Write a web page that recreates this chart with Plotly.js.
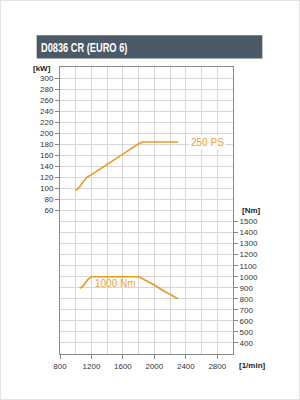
<!DOCTYPE html>
<html><head><meta charset="utf-8">
<script src="https://cdn.plot.ly/plotly-3.0.1.min.js"></script>
<style>
html,body{margin:0;padding:0;background:#fff;}
#wrap{width:300px;height:400px;box-sizing:border-box;border:1px solid #e4e4e4;position:relative;overflow:hidden;}
#chart{position:absolute;left:-1px;top:-1px;width:300px;height:400px;}
#head{position:absolute;left:39.7px;top:38px;height:18px;line-height:18px;white-space:nowrap;
  font-family:"Liberation Sans",Arial,sans-serif;font-weight:bold;font-size:12.5px;color:#fff;
  transform:scaleX(0.74);transform-origin:0 50%;}
</style></head>
<body><div id="wrap"><div id="chart"></div><div id="head"></div></div>
<script>
// engine speed [1/min] and power [kW]
const powerRpm = [1000, 1050, 1100, 1150, 1200, 1400, 1600, 1800, 1850, 2300];
const powerKw  = [96, 103, 113, 121, 125, 143, 162, 181, 184, 184];
// engine speed [1/min] and torque [Nm]
const torqueRpm = [1050, 1100, 1150, 1200, 1800, 1900, 2000, 2100, 2200, 2300];
const torqueNm  = [895, 920, 972, 1000, 1000, 965, 925, 880, 840, 800];
const xTicks = [800, 1200, 1600, 2000, 2400, 2800];
const kwTicks = [60,80,100,120,140,160,180,200,220,240,260,280,300];
const nmTicks = [400,500,600,700,800,900,1000,1100,1200,1300,1400,1500];
const title = "D0836 CR (EURO 6)";
const powerLabel = "250 PS";
const torqueLabel = "1000 Nm";

document.getElementById("head").textContent = title;

const orange = "#e89a1f";
const labelOrange = "#eaa43a";
const F = "Liberation Sans, Arial, sans-serif";
const L = 60, R = 232.7, T = 66.7, B = 354;
const W = R - L, H = B - T;
const px = x => (x - L) / W;
const py = y => (B - y) / H;

const traces = [
  {x: powerRpm, y: powerKw, type: "scatter", mode: "lines", line: {color: orange, width: 1.6}, xaxis: "x", yaxis: "y", hoverinfo: "skip"},
  {x: torqueRpm, y: torqueNm, type: "scatter", mode: "lines", line: {color: orange, width: 1.6}, xaxis: "x", yaxis: "y2", hoverinfo: "skip"}
];

const layout = {
  width: 300, height: 400,
  margin: {l: L, r: 300 - R, t: T, b: 400 - B, pad: 0},
  paper_bgcolor: "rgba(0,0,0,0)", plot_bgcolor: "#fff",
  showlegend: false,
  font: {family: F, size: 8, color: "#333"},
  xaxis: {
    range: [800, 3000], tickmode: "array", tickvals: xTicks,
    ticks: "outside", ticklen: 4, tickcolor: "#888", tickfont: {size: 8, color: "#333"},
    showgrid: true, gridcolor: "#d6d6d6", gridwidth: 1,
    minor: {dtick: 200, tick0: 800, showgrid: true, gridcolor: "#d6d6d6", gridwidth: 1, ticks: ""},
    showline: true, linecolor: "#8a8a8a", linewidth: 1, mirror: true, zeroline: false, fixedrange: true
  },
  yaxis: {
    range: [-200, 320], tickmode: "array", tickvals: kwTicks,
    ticks: "outside", ticklen: 4, tickcolor: "#888", tickfont: {size: 8, color: "#333"},
    showgrid: true, gridcolor: "#d6d6d6", gridwidth: 1,
    minor: {dtick: 20, tick0: 0, showgrid: true, gridcolor: "#d6d6d6", gridwidth: 1, ticks: ""},
    showline: true, linecolor: "#8a8a8a", linewidth: 1, mirror: true, zeroline: false, fixedrange: true
  },
  yaxis2: {
    overlaying: "y", side: "right", range: [300, 2900], tickmode: "array", tickvals: nmTicks,
    ticks: "outside", ticklen: 4, tickcolor: "#888", tickfont: {size: 8, color: "#333"},
    showgrid: false, zeroline: false, showline: false, fixedrange: true
  },
  shapes: [
    {type: "rect", xref: "paper", yref: "paper", x0: px(36.7), x1: px(262), y0: py(58.3), y1: py(35),
     fillcolor: "#4b5a66", line: {width: 0}, layer: "above"}
  ],
  annotations: [
    {xref: "paper", yref: "paper", x: px(53.5), y: py(68.3), xanchor: "right", yanchor: "middle", showarrow: false,
     text: "<b>[kW]</b>", font: {family: F, size: 8, color: "#222"}},
    {xref: "paper", yref: "paper", x: px(239.5), y: py(210), xanchor: "left", yanchor: "middle", showarrow: false,
     text: "<b>[Nm]</b>", font: {family: F, size: 8, color: "#222"}},
    {xref: "paper", yref: "paper", x: px(236.5), y: py(365.8), xanchor: "left", yanchor: "middle", showarrow: false,
     text: "<b>[1/min]</b>", font: {family: F, size: 8, color: "#222"}},
    {xref: "x", yref: "y", x: 2440, y: 184, xanchor: "left", yanchor: "middle", showarrow: false,
     text: powerLabel, font: {family: F, size: 10, color: labelOrange}, bgcolor: "rgba(255,255,255,0.9)"},
    {xref: "x", yref: "y2", x: 1510, y: 940, xanchor: "center", yanchor: "middle", showarrow: false,
     text: torqueLabel, font: {family: F, size: 10, color: labelOrange}}
  ]
};

Plotly.newPlot("chart", traces, layout, {staticPlot: true, displayModeBar: false});
</script></body></html>
